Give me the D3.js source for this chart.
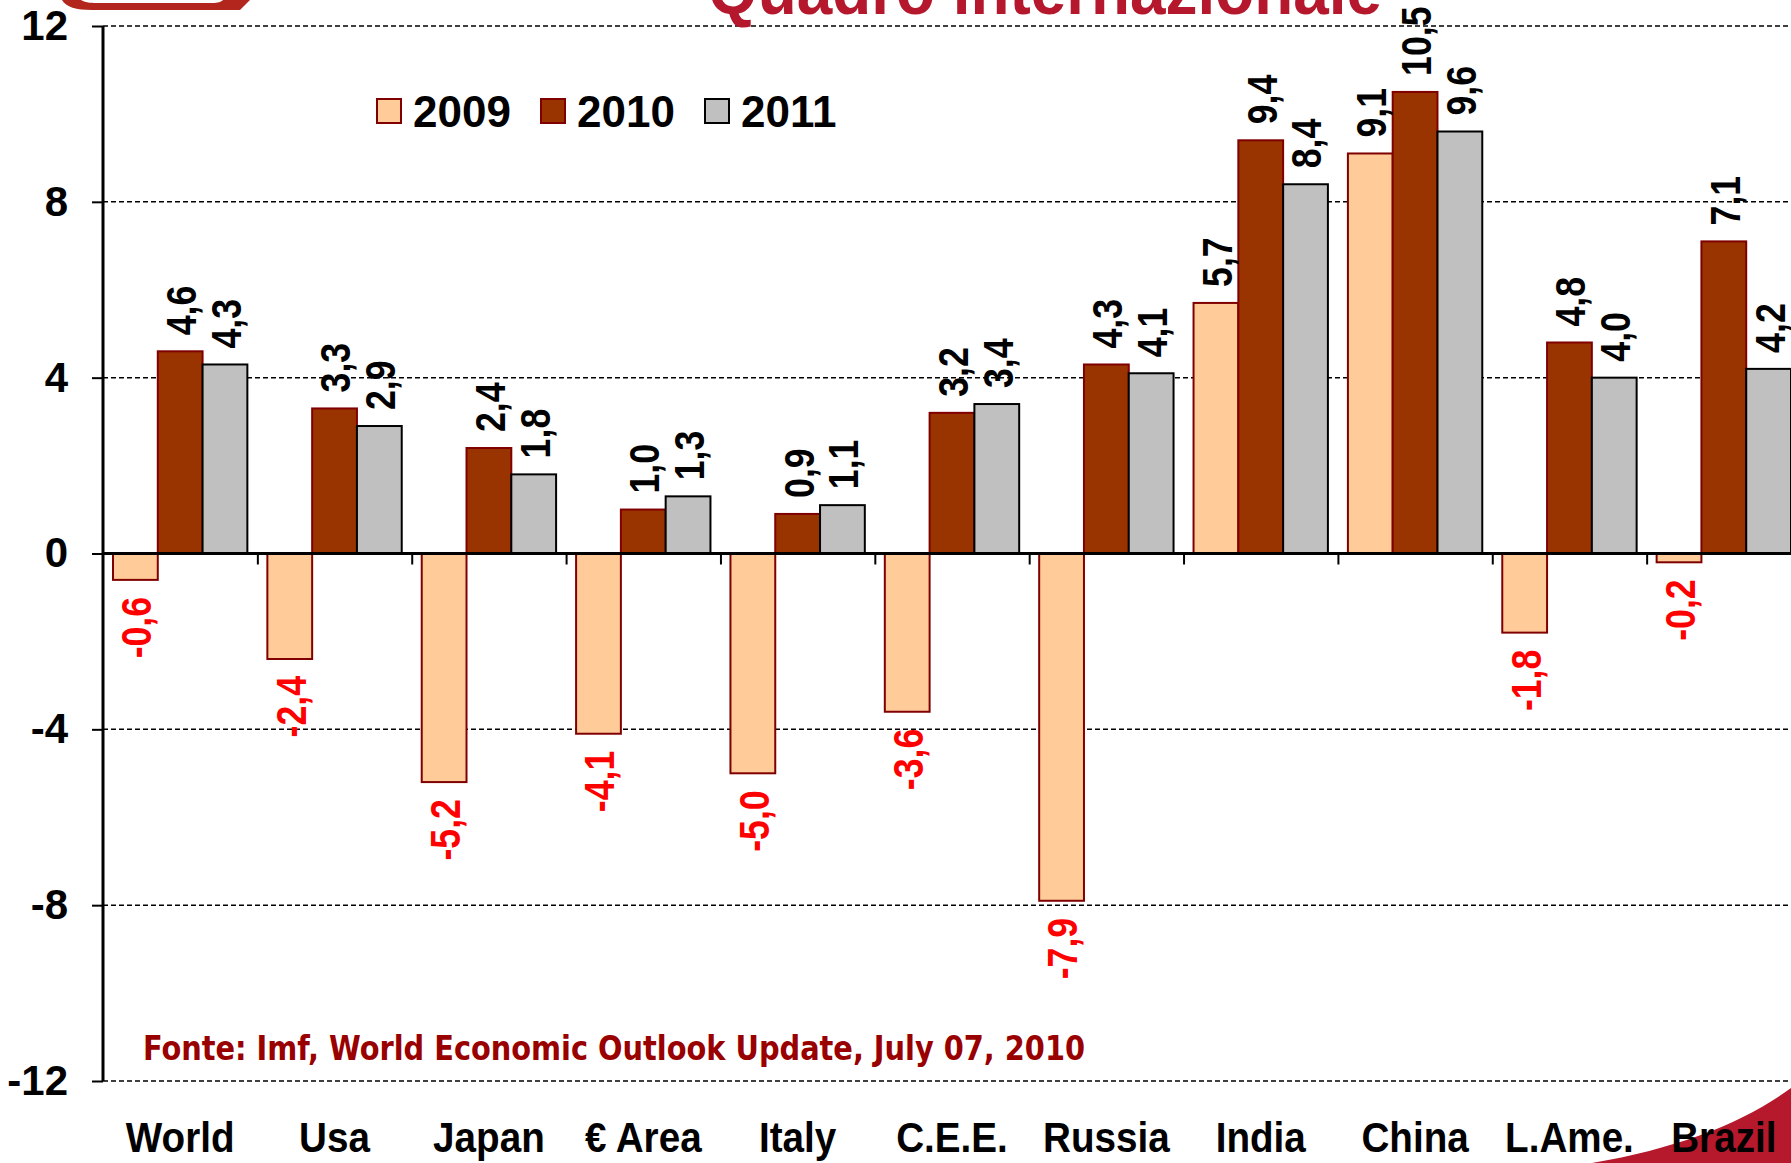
<!DOCTYPE html>
<html>
<head>
<meta charset="utf-8">
<script src="https://cdn.jsdelivr.net/npm/d3@7"></script>
<style>
  body { margin: 0; background: #fff; }
  svg { display: block; }
  text { font-family: "Liberation Sans", Arial, sans-serif; font-weight: bold; }
</style>
</head>
<body>
<div id="chart"></div>
<script>
var categories = ["World", "Usa", "Japan", "€ Area", "Italy", "C.E.E.", "Russia", "India", "China", "L.Ame.", "Brazil"];
var years = ["2009", "2010", "2011"];
var values2009 = [-0.6, -2.4, -5.2, -4.1, -5.0, -3.6, -7.9, 5.7, 9.1, -1.8, -0.2];
var values2010 = [4.6, 3.3, 2.4, 1.0, 0.9, 3.2, 4.3, 9.4, 10.5, 4.8, 7.1];
var values2011 = [4.3, 2.9, 1.8, 1.3, 1.1, 3.4, 4.1, 8.4, 9.6, 4.0, 4.2];
var yTicks = [12, 8, 4, 0, -4, -8, -12];
var yTickLabels = ["12", "8", "4", "0", "-4", "-8", "-12"];

var fills = ["#ffcc99", "#993300", "#c0c0c0"];
var strokes = ["#800000", "#800000", "#000000"];

var width = 1791, height = 1163;
var plotLeft = 103, plotRight = 1801, plotTop = 26, plotBottom = 1081;

var svg = d3.select("#chart").append("svg")
    .attr("width", width)
    .attr("height", height);

var series = [values2009, values2010, values2011];

var xScale = d3.scaleBand().domain(categories).range([plotLeft, plotRight]);
var xInner = d3.scaleBand().domain(years).range([10, xScale.bandwidth() - 10]);
var xIndex = d3.scaleLinear().domain([0, categories.length]).range([plotLeft, plotRight]);
var yScale = d3.scaleLinear().domain([-12, 12]).range([plotBottom, plotTop]);

var fmt = d3.formatLocale({ decimal: ",", thousands: ".", grouping: [3], currency: ["", "€"], minus: "-" }).format(".1f");

// bottom-right swoosh
svg.append("path")
    .attr("d", "M1592,1163 C1680,1148 1745,1122 1791,1088 L1791,1163 Z")
    .attr("fill", "#b5192b");

// top-left red frame piece
svg.append("path")
    .attr("d", "M62,0 C66,7 76,10 92,10 L240,10 L250,0 Z")
    .attr("fill", "#b3261e");
svg.append("path")
    .attr("d", "M81,0 C86,3 92,3 100,3 L212,3 C218,3 221,2 223,0 Z")
    .attr("fill", "#fff");

// gridlines
svg.append("g").selectAll("line")
    .data(yTicks.filter(function (d) { return d !== 0; }))
    .enter().append("line")
    .attr("x1", plotLeft).attr("x2", width)
    .attr("y1", function (d) { return yScale(d); })
    .attr("y2", function (d) { return yScale(d); })
    .attr("stroke", "#000")
    .attr("stroke-width", 1.5)
    .attr("stroke-dasharray", "5,3");

// bars
var groups = svg.append("g").selectAll("g")
    .data(categories)
    .enter().append("g")
    .attr("transform", function (d) { return "translate(" + xScale(d) + ",0)"; });

groups.selectAll("rect")
    .data(function (d, i) { return years.map(function (yr, j) { return { year: yr, j: j, v: series[j][i] }; }); })
    .enter().append("rect")
    .attr("x", function (d) { return xInner(d.year); })
    .attr("width", xInner.bandwidth())
    .attr("y", function (d) { return yScale(Math.max(0, d.v)); })
    .attr("height", function (d) { return Math.abs(yScale(d.v) - yScale(0)); })
    .attr("fill", function (d) { return fills[d.j]; })
    .attr("stroke", function (d) { return strokes[d.j]; })
    .attr("stroke-width", 2);

// value labels
groups.selectAll("text")
    .data(function (d, i) { return years.map(function (yr, j) { return { year: yr, j: j, v: series[j][i] }; }); })
    .enter().append("text")
    .attr("transform", function (d) {
        var cx = xInner(d.year) + xInner.bandwidth() / 2;
        var y = d.v >= 0 ? yScale(d.v) - 16 : yScale(d.v) + 17;
        return "translate(" + cx + "," + y + ") rotate(-90) scale(0.83,1)";
    })
    .attr("text-anchor", function (d) { return d.v >= 0 ? "start" : "end"; })
    .attr("dy", "0.37em")
    .attr("font-size", 43)
    .attr("fill", function (d) { return d.v >= 0 ? "#000" : "#ff0000"; })
    .text(function (d) { return fmt(d.v); });

// zero line and x ticks
var xAxis = d3.axisBottom(xIndex)
    .tickValues(d3.range(1, categories.length))
    .tickSize(11)
    .tickFormat("");
var xg = svg.append("g").attr("transform", "translate(0," + yScale(0) + ")").call(xAxis);
xg.select(".domain").remove();
xg.selectAll(".tick line").attr("stroke", "#000").attr("stroke-width", 2);
svg.append("line")
    .attr("x1", plotLeft).attr("x2", width)
    .attr("y1", yScale(0)).attr("y2", yScale(0))
    .attr("stroke", "#000").attr("stroke-width", 3);

// y axis
var yAxis = d3.axisLeft(yScale)
    .tickValues(yTicks)
    .tickSize(11)
    .tickPadding(24)
    .tickFormat(function (d, i) { return yTickLabels[i]; });
var yg = svg.append("g").attr("transform", "translate(" + plotLeft + ",0)").call(yAxis);
yg.select(".domain").attr("stroke-width", 3).attr("d", "M0," + plotTop + "V" + plotBottom);
yg.selectAll(".tick line").attr("stroke-width", 2);
yg.selectAll(".tick text")
    .attr("font-size", 42)
    .attr("font-family", "Liberation Sans, Arial, sans-serif")
    .attr("font-weight", "bold")
    .attr("fill", "#000");

// category labels
svg.append("g").selectAll("text")
    .data(categories)
    .enter().append("text")
    .attr("transform", function (d) { return "translate(" + (xScale(d) + xScale.bandwidth() / 2) + ",1152) scale(0.92,1)"; })
    .attr("text-anchor", "middle")
    .attr("font-size", 42)
    .attr("fill", "#000")
    .text(function (d) { return d; });

// legend
var legend = svg.append("g").selectAll("g")
    .data(years)
    .enter().append("g")
    .attr("transform", function (d, i) { return "translate(" + (377 + i * 164) + ",99)"; });
legend.append("rect")
    .attr("width", 24).attr("height", 24)
    .attr("fill", function (d, i) { return fills[i]; })
    .attr("stroke", function (d, i) { return strokes[i]; })
    .attr("stroke-width", 2);
legend.append("text")
    .attr("x", 36).attr("y", 28)
    .attr("font-size", 44)
    .attr("fill", "#000")
    .text(function (d) { return d; });

// source note
svg.append("text")
    .attr("x", 143).attr("y", 1060)
    .attr("font-size", 33)
    .attr("fill", "#990000")
    .style("font-family", "'DejaVu Sans Condensed', 'DejaVu Sans', sans-serif")
    .attr("textLength", 942)
    .attr("lengthAdjust", "spacingAndGlyphs")
    .text("Fonte: Imf, World Economic Outlook Update, July 07, 2010");

// title (cut off at the top)
svg.append("text")
    .attr("x", 708).attr("y", 14)
    .attr("font-size", 70)
    .attr("fill", "#b5182d")
    .attr("textLength", 674)
    .attr("lengthAdjust", "spacingAndGlyphs")
    .text("Quadro internazionale");
</script>
</body>
</html>
